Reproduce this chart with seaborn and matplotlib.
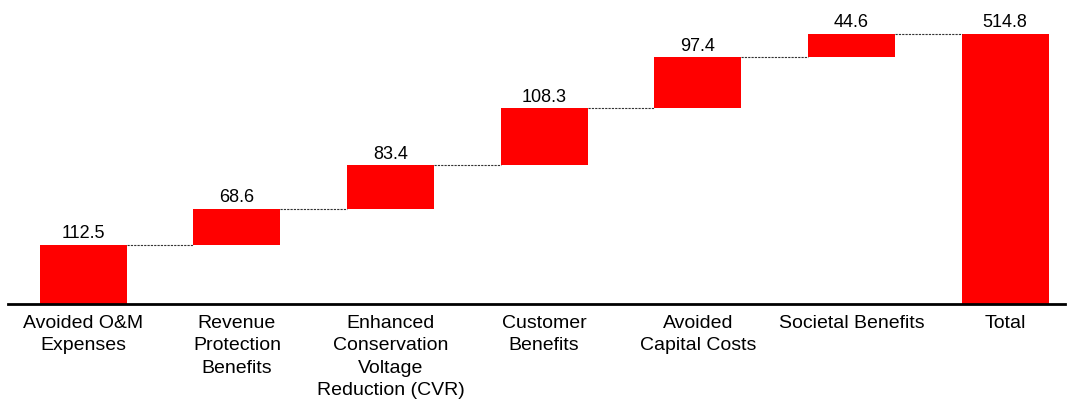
import matplotlib
matplotlib.use("Agg")
import matplotlib.pyplot as plt
import seaborn as sns
import numpy as np
import pandas as pd

categories = ["Avoided O&M\nExpenses", "Revenue\nProtection\nBenefits",
              "Enhanced\nConservation\nVoltage\nReduction (CVR)", "Customer\nBenefits",
              "Avoided\nCapital Costs", "Societal Benefits", "Total"]
steps = [112.5, 68.6, 83.4, 108.3, 97.4, 44.6]
total = 514.8
value_labels = ["112.5", "68.6", "83.4", "108.3", "97.4", "44.6", "514.8"]

sns.set_theme(style="white")
plt.rcParams['font.family'] = ['Liberation Sans', 'DejaVu Sans']

cum = np.cumsum(steps)
bottoms = list(np.concatenate([[0], cum[:-1]])) + [0]
heights = list(steps) + [total]
tops = [b + h for b, h in zip(bottoms, heights)]

df = pd.DataFrame({"cat": categories, "height": heights, "bottom": bottoms})

fig = plt.figure(figsize=(10.73, 4.01), dpi=100)
ax = fig.add_axes([8/1073, 97/401, 1057/1073, 284/401])

width = 0.566
sns.barplot(data=df, x="cat", y="height", bottom=df["bottom"].values, color="#FF0000",
            saturation=1, width=width, ax=ax, linewidth=0)

for i in range(len(categories) - 1):
    ax.plot([i + width/2, i + 1 - width/2], [tops[i], tops[i]], linestyle=(0, (2, 1)),
            color="#333333", lw=0.8)

for i, t in enumerate(tops):
    ax.text(i, t + 5, value_labels[i], ha="center", va="bottom", fontsize=13, color="black")

ax.set_xlim(-0.49, 6.39)
ax.set_ylim(0, 541.5)
ax.set_xlabel("")
ax.set_ylabel("")
ax.set_yticks([])
for s in ["top", "left", "right"]:
    ax.spines[s].set_visible(False)
ax.spines["bottom"].set_color("black")
ax.spines["bottom"].set_linewidth(2)
ax.tick_params(axis="x", length=0, pad=8, labelsize=14, colors="black")
for lbl in ax.get_xticklabels():
    lbl.set_linespacing(1.4)

fig.savefig("out.png", dpi=100)
